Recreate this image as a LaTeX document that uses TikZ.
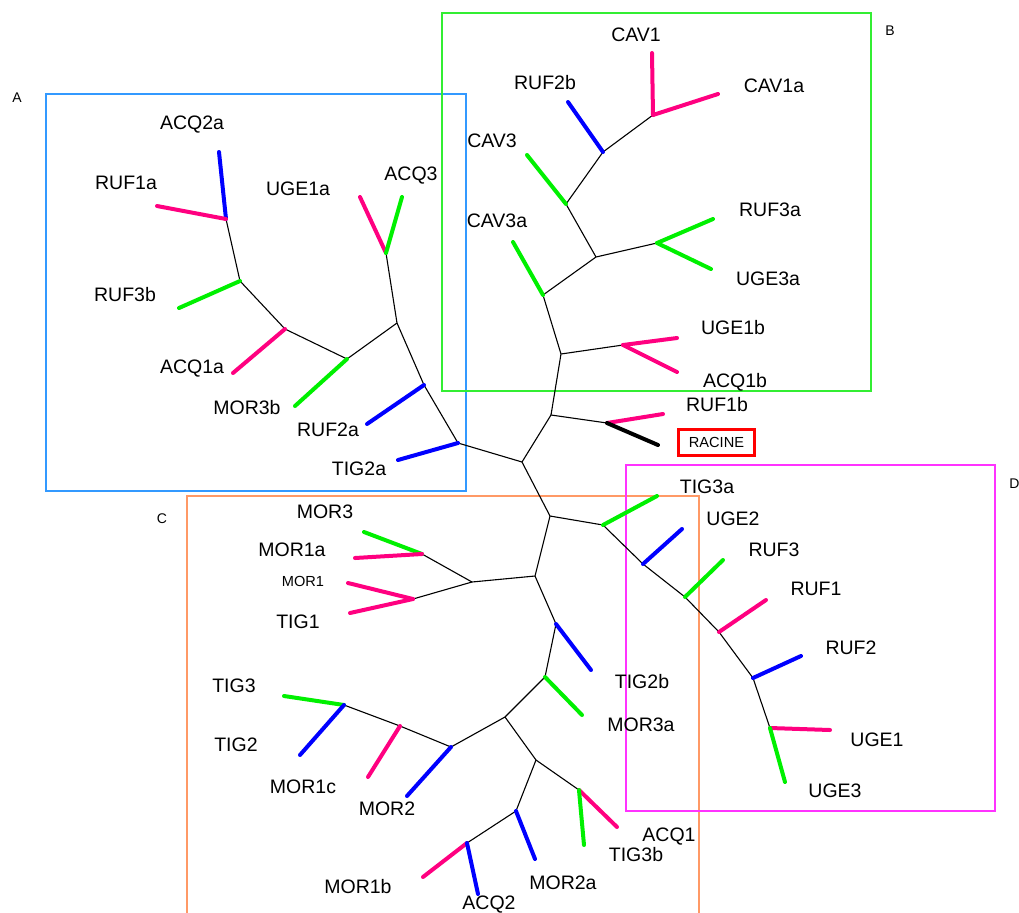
\documentclass[tikz,border=0pt]{standalone}
\usepackage{fontspec}
\setmainfont{Liberation Sans}
\definecolor{pk}{HTML}{FF0080}
\definecolor{gr}{HTML}{00F000}
\definecolor{bl}{HTML}{0000FF}
\definecolor{boxA}{HTML}{3399FF}
\definecolor{boxB}{HTML}{33EE33}
\definecolor{boxC}{HTML}{FF9966}
\definecolor{boxD}{HTML}{FF33FF}
\begin{document}
\begin{tikzpicture}[x=0.5pt,y=-0.5pt,
  edge/.style={black, line width=0.55pt},
  leaf/.style={line width=2pt, line cap=round},
  grp/.style={line width=0.8pt},
  lab/.style={font=\fontsize{9.75}{11}\selectfont, inner sep=0pt, anchor=base},
  slab/.style={font=\fontsize{7.3}{9}\selectfont, inner sep=0pt, anchor=base},
  corner/.style={font=\fontsize{7}{9}\selectfont, inner sep=0pt, anchor=base}]
\useasboundingbox (0,0) rectangle (1019,912);
\fill[white] (0,0) rectangle (1019,912);

% group boxes
\draw[boxA, grp] (46,94) rectangle (466,491);
\draw[boxB, grp] (442,13) rectangle (871,391);
\draw[boxC, grp] (187,915) -- (187,496) -- (699,496) -- (699,915);
\draw[boxD, grp] (626,465) rectangle (995,811);
\node[corner] (gA) at (17,102) {A};
\node[corner] (gB) at (890,35) {B};
\node[corner] (gC) at (162,523) {C};
\node[corner, anchor=base west] (gD) at (1009,488) {D};

% internal nodes
\coordinate (r1) at (522,462);
\coordinate (r2) at (551,415);
\coordinate (r3) at (550,516);
\coordinate (rr) at (607,423);
% A
\coordinate (a1) at (226,219);
\coordinate (a2) at (240,281);
\coordinate (a3) at (285,329);
\coordinate (a4) at (347,359);
\coordinate (a5) at (397,323);
\coordinate (a6) at (386,253);
\coordinate (a7) at (424,385);
\coordinate (a8) at (458,443);
% B
\coordinate (b1) at (561,354);
\coordinate (bb) at (623,345);
\coordinate (b2) at (543,295);
\coordinate (b3) at (596,257);
\coordinate (b4) at (657,243);
\coordinate (b5) at (566,204);
\coordinate (b6) at (603,152);
\coordinate (b7) at (653,115);
% D
\coordinate (d0) at (603,525);
\coordinate (d1) at (643,564);
\coordinate (d2) at (685,597);
\coordinate (d3) at (719,632);
\coordinate (d4) at (753,678);
\coordinate (d5) at (770,728);
% C
\coordinate (c1) at (535,576);
\coordinate (c2) at (472,582);
\coordinate (c3) at (422,554);
\coordinate (c4) at (413,599);
\coordinate (c5) at (556,624);
\coordinate (c6) at (545,677);
\coordinate (c7) at (505,717);
\coordinate (c8) at (451,747);
\coordinate (c9) at (400,726);
\coordinate (c10) at (344,705);
\coordinate (c11) at (536,760);
\coordinate (c12) at (579,790);
\coordinate (c13) at (516,811);
\coordinate (c14) at (467,843);

% leaf tips
\coordinate (eACQ2a) at (219,152);
\coordinate (eRUF1a) at (157,206);
\coordinate (eRUF3b) at (179,308);
\coordinate (eACQ1a) at (233,373);
\coordinate (eMOR3b) at (295,406);
\coordinate (eUGE1a) at (360,197);
\coordinate (eACQ3) at (402,197);
\coordinate (eRUF2a) at (367,424);
\coordinate (eTIG2a) at (398,460);
\coordinate (eRUF1b) at (663,414);
\coordinate (eRACINE) at (658,445);
\coordinate (eUGE1b) at (677,338);
\coordinate (eACQ1b) at (677,372);
\coordinate (eCAV3a) at (513,242);
\coordinate (eRUF3a) at (713,219);
\coordinate (eUGE3a) at (711,269);
\coordinate (eCAV3) at (527,155);
\coordinate (eRUF2b) at (568,102);
\coordinate (eCAV1) at (652,53);
\coordinate (eCAV1a) at (718,94);
\coordinate (eTIG3a) at (657,496);
\coordinate (eUGE2) at (682,529);
\coordinate (eRUF3) at (723,560);
\coordinate (eRUF1) at (766,600);
\coordinate (eRUF2) at (801,656);
\coordinate (eUGE1) at (830,730);
\coordinate (eUGE3) at (785,782);
\coordinate (eMOR3) at (364,532);
\coordinate (eMOR1a) at (355,558);
\coordinate (eMOR1) at (348,583);
\coordinate (eTIG1) at (350,613);
\coordinate (eTIG2b) at (591,670);
\coordinate (eMOR3a) at (582,715);
\coordinate (eMOR2) at (407,796);
\coordinate (eMOR1c) at (368,777);
\coordinate (eTIG3) at (284,696);
\coordinate (eTIG2) at (300,755);
\coordinate (eACQ1) at (617,827);
\coordinate (eTIG3b) at (584,845);
\coordinate (eMOR2a) at (535,859);
\coordinate (eMOR1b) at (423,877);
\coordinate (eACQ2) at (478,894);

% internal edges
\draw[edge] (a1) -- (a2) -- (a3) -- (a4) -- (a5) -- (a6);
\draw[edge] (a5) -- (a7) -- (a8) -- (r1);
\draw[edge] (r1) -- (r2) -- (rr);
\draw[edge] (r2) -- (b1) -- (bb);
\draw[edge] (b1) -- (b2) -- (b3) -- (b4);
\draw[edge] (b3) -- (b5) -- (b6) -- (b7);
\draw[edge] (r1) -- (r3) -- (d0) -- (d1) -- (d2) -- (d3) -- (d4) -- (d5);
\draw[edge] (r3) -- (c1) -- (c2) -- (c3);
\draw[edge] (c2) -- (c4);
\draw[edge] (c1) -- (c5) -- (c6) -- (c7) -- (c8) -- (c9) -- (c10);
\draw[edge] (c7) -- (c11) -- (c12);
\draw[edge] (c11) -- (c13) -- (c14);

% leaves
\draw[leaf, bl] (a1) -- (eACQ2a);
\draw[leaf, pk] (a1) -- (eRUF1a);
\draw[leaf, gr] (a2) -- (eRUF3b);
\draw[leaf, pk] (a3) -- (eACQ1a);
\draw[leaf, gr] (a4) -- (eMOR3b);
\draw[leaf, pk] (a6) -- (eUGE1a);
\draw[leaf, gr] (a6) -- (eACQ3);
\draw[leaf, bl] (a7) -- (eRUF2a);
\draw[leaf, bl] (a8) -- (eTIG2a);
\draw[leaf, pk] (rr) -- (eRUF1b);
\draw[leaf, black] (rr) -- (eRACINE);
\draw[leaf, pk] (bb) -- (eUGE1b);
\draw[leaf, pk] (bb) -- (eACQ1b);
\draw[leaf, gr] (b2) -- (eCAV3a);
\draw[leaf, gr] (b4) -- (eRUF3a);
\draw[leaf, gr] (b4) -- (eUGE3a);
\draw[leaf, gr] (b5) -- (eCAV3);
\draw[leaf, bl] (b6) -- (eRUF2b);
\draw[leaf, pk] (b7) -- (eCAV1);
\draw[leaf, pk] (b7) -- (eCAV1a);
\draw[leaf, gr] (d0) -- (eTIG3a);
\draw[leaf, bl] (d1) -- (eUGE2);
\draw[leaf, gr] (d2) -- (eRUF3);
\draw[leaf, pk] (d3) -- (eRUF1);
\draw[leaf, bl] (d4) -- (eRUF2);
\draw[leaf, pk] (d5) -- (eUGE1);
\draw[leaf, gr] (d5) -- (eUGE3);
\draw[leaf, gr] (c3) -- (eMOR3);
\draw[leaf, pk] (c3) -- (eMOR1a);
\draw[leaf, pk] (c4) -- (eMOR1);
\draw[leaf, pk] (c4) -- (eTIG1);
\draw[leaf, bl] (c5) -- (eTIG2b);
\draw[leaf, gr] (c6) -- (eMOR3a);
\draw[leaf, bl] (c8) -- (eMOR2);
\draw[leaf, pk] (c9) -- (eMOR1c);
\draw[leaf, gr] (c10) -- (eTIG3);
\draw[leaf, bl] (c10) -- (eTIG2);
\draw[leaf, pk] (c12) -- (eACQ1);
\draw[leaf, gr] (c12) -- (eTIG3b);
\draw[leaf, bl] (c13) -- (eMOR2a);
\draw[leaf, pk] (c14) -- (eMOR1b);
\draw[leaf, bl] (c14) -- (eACQ2);

% labels
\node[lab] (tACQ2a) at (192,129) {ACQ2a};
\node[lab] (tRUF1a) at (126,189) {RUF1a};
\node[lab] (tRUF3b) at (125,301) {RUF3b};
\node[lab] (tACQ1a) at (192,373) {ACQ1a};
\node[lab] (tMOR3b) at (247,414) {MOR3b};
\node[lab] (tUGE1a) at (298,195) {UGE1a};
\node[lab] (tACQ3) at (411,180) {ACQ3};
\node[lab] (tRUF2a) at (328,436) {RUF2a};
\node[lab] (tTIG2a) at (359,475) {TIG2a};
\node[lab] (tCAV1) at (636,41) {CAV1};
\node[lab] (tCAV1a) at (774,92) {CAV1a};
\node[lab] (tRUF2b) at (545,89) {RUF2b};
\node[lab] (tCAV3) at (492,147) {CAV3};
\node[lab] (tCAV3a) at (497,227) {CAV3a};
\node[lab] (tRUF3a) at (770,216) {RUF3a};
\node[lab] (tUGE3a) at (768,285) {UGE3a};
\node[lab] (tUGE1b) at (733,334) {UGE1b};
\node[lab] (tACQ1b) at (735,387) {ACQ1b};
\node[lab] (tRUF1b) at (717,411) {RUF1b};
\node[draw=red, line width=1.5pt, minimum width=38pt, minimum height=13pt, inner sep=0pt,
      font=\fontsize{7.3}{9}\selectfont] (racine) at (716.5,442.5) {RACINE};
\node[lab] (tTIG3a) at (707,493) {TIG3a};
\node[lab] (tUGE2) at (733,525) {UGE2};
\node[lab] (tRUF3) at (774,556) {RUF3};
\node[lab] (tRUF1) at (816,595) {RUF1};
\node[lab] (tRUF2) at (851,654) {RUF2};
\node[lab] (tUGE1) at (877,746) {UGE1};
\node[lab] (tUGE3) at (835,797) {UGE3};
\node[lab] (tMOR3) at (325,518) {MOR3};
\node[lab] (tMOR1a) at (292,556) {MOR1a};
\node[slab] (tMOR1) at (303,586) {MOR1};
\node[lab] (tTIG1) at (298,628) {TIG1};
\node[lab] (tTIG2b) at (642,688) {TIG2b};
\node[lab] (tMOR3a) at (641,731) {MOR3a};
\node[lab] (tTIG3) at (234,692) {TIG3};
\node[lab] (tTIG2) at (236,751) {TIG2};
\node[lab] (tMOR1c) at (303,793) {MOR1c};
\node[lab] (tMOR2) at (387,815) {MOR2};
\node[lab] (tACQ1) at (669,841) {ACQ1};
\node[lab] (tTIG3b) at (636,861) {TIG3b};
\node[lab] (tMOR2a) at (563,889) {MOR2a};
\node[lab] (tMOR1b) at (358,893) {MOR1b};
\node[lab] (tACQ2) at (489,909) {ACQ2};
\end{tikzpicture}
\end{document}
